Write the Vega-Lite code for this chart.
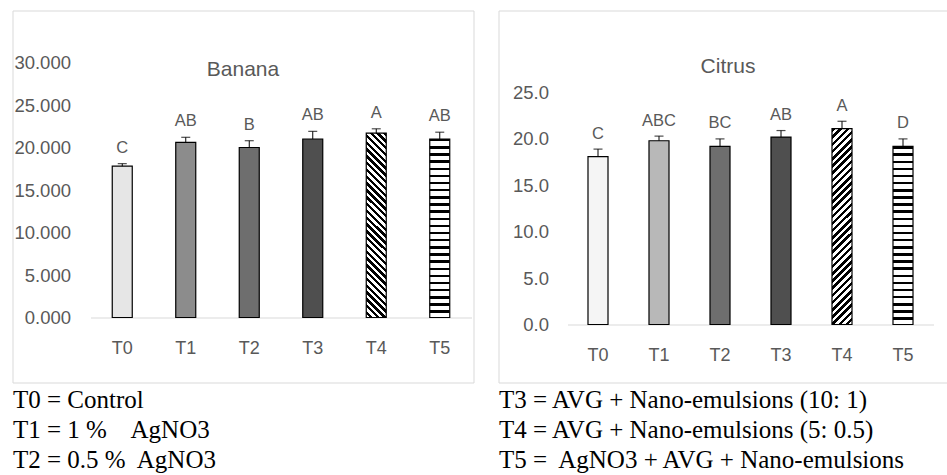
{
  "$schema": "https://vega.github.io/schema/vega-lite/v6.json",
  "padding": {"left": 11.5, "top": 9.5, "right": 0, "bottom": 0},
  "background": "white",
  "config": {"font": "Liberation Sans", "view": {"stroke": "#d9d9d9", "strokeWidth": 1}},
  "data": {"values": [
    {"chart": "Banana", "t": "T0", "mean": 17.8, "upper": 18.1, "letter": "C"},
    {"chart": "Banana", "t": "T1", "mean": 20.6, "upper": 21.2, "letter": "AB"},
    {"chart": "Banana", "t": "T2", "mean": 20.0, "upper": 20.8, "letter": "B"},
    {"chart": "Banana", "t": "T3", "mean": 21.0, "upper": 21.9, "letter": "AB"},
    {"chart": "Banana", "t": "T4", "mean": 21.7, "upper": 22.2, "letter": "A"},
    {"chart": "Banana", "t": "T5", "mean": 21.0, "upper": 21.8, "letter": "AB"},
    {"chart": "Citrus", "t": "T0", "mean": 18.1, "upper": 18.9, "letter": "C"},
    {"chart": "Citrus", "t": "T1", "mean": 19.8, "upper": 20.3, "letter": "ABC"},
    {"chart": "Citrus", "t": "T2", "mean": 19.2, "upper": 20.0, "letter": "BC"},
    {"chart": "Citrus", "t": "T3", "mean": 20.2, "upper": 20.9, "letter": "AB"},
    {"chart": "Citrus", "t": "T4", "mean": 21.1, "upper": 21.9, "letter": "A"},
    {"chart": "Citrus", "t": "T5", "mean": 19.2, "upper": 20.0, "letter": "D"}
  ]},
  "spacing": 23,
  "hconcat": [
    {
      "width": 461, "height": 372,
      "transform": [{"filter": "datum.chart === 'Banana'"}],
      "title": {"text": "Banana", "font": "Liberation Sans", "fontSize": 21, "fontWeight": "normal", "color": "#595959", "offset": -86, "baseline": "alphabetic"},
      "resolve": {"axis": {"x": "independent"}},
      "layer": [
        {
          "mark": {"type": "bar", "stroke": "#000", "strokeWidth": 1.2},
          "encoding": {
            "x": {"field": "t", "type": "nominal", "scale": {"range": [78, 459], "paddingInner": 0.685, "paddingOuter": 0.3425},
                  "axis": {"orient": "bottom", "title": null, "labelFont": "Liberation Sans", "labelFontSize": 18, "labelColor": "#595959", "labelPadding": 22, "labelAngle": 0, "ticks": false, "tickSize": 0, "domain": true, "domainColor": "#d9d9d9", "domainWidth": 1, "grid": false, "offset": -65}},
            "y": {"field": "mean", "type": "quantitative", "scale": {"domain": [0, 30], "range": [307, 52], "nice": false},
                  "axis": {"title": null, "values": [0, 5, 10, 15, 20, 25, 30], "format": ".3f", "labelFont": "Liberation Sans", "labelFontSize": 18.5, "labelColor": "#595959", "labelPadding": 20, "ticks": false, "tickSize": 0, "domain": false, "grid": false, "offset": -78}},
            "fill": {"condition": [
              {"test": "datum.t === 'T0'", "value": "#e6e6e6"},
              {"test": "datum.t === 'T1'", "value": "#8c8c8c"},
              {"test": "datum.t === 'T2'", "value": "#6e6e6e"},
              {"test": "datum.t === 'T3'", "value": "#4f4f4f"},
              {"test": "datum.t === 'T4'", "value": {"gradient": "linear", "x1": 1, "y1": 0, "x2": 0.8817, "y2": 1.095, "stops": [
{"offset":0,"color":"#000"},{"offset":0.0167,"color":"#000"},{"offset":0.0167,"color":"#fff"},{"offset":0.0333,"color":"#fff"},
{"offset":0.0333,"color":"#000"},{"offset":0.05,"color":"#000"},{"offset":0.05,"color":"#fff"},{"offset":0.0667,"color":"#fff"},
{"offset":0.0667,"color":"#000"},{"offset":0.0833,"color":"#000"},{"offset":0.0833,"color":"#fff"},{"offset":0.1,"color":"#fff"},
{"offset":0.1,"color":"#000"},{"offset":0.1167,"color":"#000"},{"offset":0.1167,"color":"#fff"},{"offset":0.1333,"color":"#fff"},
{"offset":0.1333,"color":"#000"},{"offset":0.15,"color":"#000"},{"offset":0.15,"color":"#fff"},{"offset":0.1667,"color":"#fff"},
{"offset":0.1667,"color":"#000"},{"offset":0.1833,"color":"#000"},{"offset":0.1833,"color":"#fff"},{"offset":0.2,"color":"#fff"},
{"offset":0.2,"color":"#000"},{"offset":0.2167,"color":"#000"},{"offset":0.2167,"color":"#fff"},{"offset":0.2333,"color":"#fff"},
{"offset":0.2333,"color":"#000"},{"offset":0.25,"color":"#000"},{"offset":0.25,"color":"#fff"},{"offset":0.2667,"color":"#fff"},
{"offset":0.2667,"color":"#000"},{"offset":0.2833,"color":"#000"},{"offset":0.2833,"color":"#fff"},{"offset":0.3,"color":"#fff"},
{"offset":0.3,"color":"#000"},{"offset":0.3167,"color":"#000"},{"offset":0.3167,"color":"#fff"},{"offset":0.3333,"color":"#fff"},
{"offset":0.3333,"color":"#000"},{"offset":0.35,"color":"#000"},{"offset":0.35,"color":"#fff"},{"offset":0.3667,"color":"#fff"},
{"offset":0.3667,"color":"#000"},{"offset":0.3833,"color":"#000"},{"offset":0.3833,"color":"#fff"},{"offset":0.4,"color":"#fff"},
{"offset":0.4,"color":"#000"},{"offset":0.4167,"color":"#000"},{"offset":0.4167,"color":"#fff"},{"offset":0.4333,"color":"#fff"},
{"offset":0.4333,"color":"#000"},{"offset":0.45,"color":"#000"},{"offset":0.45,"color":"#fff"},{"offset":0.4667,"color":"#fff"},
{"offset":0.4667,"color":"#000"},{"offset":0.4833,"color":"#000"},{"offset":0.4833,"color":"#fff"},{"offset":0.5,"color":"#fff"},
{"offset":0.5,"color":"#000"},{"offset":0.5167,"color":"#000"},{"offset":0.5167,"color":"#fff"},{"offset":0.5333,"color":"#fff"},
{"offset":0.5333,"color":"#000"},{"offset":0.55,"color":"#000"},{"offset":0.55,"color":"#fff"},{"offset":0.5667,"color":"#fff"},
{"offset":0.5667,"color":"#000"},{"offset":0.5833,"color":"#000"},{"offset":0.5833,"color":"#fff"},{"offset":0.6,"color":"#fff"},
{"offset":0.6,"color":"#000"},{"offset":0.6167,"color":"#000"},{"offset":0.6167,"color":"#fff"},{"offset":0.6333,"color":"#fff"},
{"offset":0.6333,"color":"#000"},{"offset":0.65,"color":"#000"},{"offset":0.65,"color":"#fff"},{"offset":0.6667,"color":"#fff"},
{"offset":0.6667,"color":"#000"},{"offset":0.6833,"color":"#000"},{"offset":0.6833,"color":"#fff"},{"offset":0.7,"color":"#fff"},
{"offset":0.7,"color":"#000"},{"offset":0.7167,"color":"#000"},{"offset":0.7167,"color":"#fff"},{"offset":0.7333,"color":"#fff"},
{"offset":0.7333,"color":"#000"},{"offset":0.75,"color":"#000"},{"offset":0.75,"color":"#fff"},{"offset":0.7667,"color":"#fff"},
{"offset":0.7667,"color":"#000"},{"offset":0.7833,"color":"#000"},{"offset":0.7833,"color":"#fff"},{"offset":0.8,"color":"#fff"},
{"offset":0.8,"color":"#000"},{"offset":0.8167,"color":"#000"},{"offset":0.8167,"color":"#fff"},{"offset":0.8333,"color":"#fff"},
{"offset":0.8333,"color":"#000"},{"offset":0.85,"color":"#000"},{"offset":0.85,"color":"#fff"},{"offset":0.8667,"color":"#fff"},
{"offset":0.8667,"color":"#000"},{"offset":0.8833,"color":"#000"},{"offset":0.8833,"color":"#fff"},{"offset":0.9,"color":"#fff"},
{"offset":0.9,"color":"#000"},{"offset":0.9167,"color":"#000"},{"offset":0.9167,"color":"#fff"},{"offset":0.9333,"color":"#fff"},
{"offset":0.9333,"color":"#000"},{"offset":0.95,"color":"#000"},{"offset":0.95,"color":"#fff"},{"offset":0.9667,"color":"#fff"},
{"offset":0.9667,"color":"#000"},{"offset":0.9833,"color":"#000"},{"offset":0.9833,"color":"#fff"},{"offset":1,"color":"#fff"}
              ]}},
              {"test": "datum.t === 'T5'", "value": {"gradient": "linear", "x1": 0, "y1": 0, "x2": 0, "y2": 1, "stops": [
{"offset":0,"color":"#000"},{"offset":0.014,"color":"#000"},{"offset":0.014,"color":"#fff"},{"offset":0.04,"color":"#fff"},
{"offset":0.04,"color":"#000"},{"offset":0.054,"color":"#000"},{"offset":0.054,"color":"#fff"},{"offset":0.08,"color":"#fff"},
{"offset":0.08,"color":"#000"},{"offset":0.094,"color":"#000"},{"offset":0.094,"color":"#fff"},{"offset":0.12,"color":"#fff"},
{"offset":0.12,"color":"#000"},{"offset":0.134,"color":"#000"},{"offset":0.134,"color":"#fff"},{"offset":0.16,"color":"#fff"},
{"offset":0.16,"color":"#000"},{"offset":0.174,"color":"#000"},{"offset":0.174,"color":"#fff"},{"offset":0.2,"color":"#fff"},
{"offset":0.2,"color":"#000"},{"offset":0.214,"color":"#000"},{"offset":0.214,"color":"#fff"},{"offset":0.24,"color":"#fff"},
{"offset":0.24,"color":"#000"},{"offset":0.254,"color":"#000"},{"offset":0.254,"color":"#fff"},{"offset":0.28,"color":"#fff"},
{"offset":0.28,"color":"#000"},{"offset":0.294,"color":"#000"},{"offset":0.294,"color":"#fff"},{"offset":0.32,"color":"#fff"},
{"offset":0.32,"color":"#000"},{"offset":0.334,"color":"#000"},{"offset":0.334,"color":"#fff"},{"offset":0.36,"color":"#fff"},
{"offset":0.36,"color":"#000"},{"offset":0.374,"color":"#000"},{"offset":0.374,"color":"#fff"},{"offset":0.4,"color":"#fff"},
{"offset":0.4,"color":"#000"},{"offset":0.414,"color":"#000"},{"offset":0.414,"color":"#fff"},{"offset":0.44,"color":"#fff"},
{"offset":0.44,"color":"#000"},{"offset":0.454,"color":"#000"},{"offset":0.454,"color":"#fff"},{"offset":0.48,"color":"#fff"},
{"offset":0.48,"color":"#000"},{"offset":0.494,"color":"#000"},{"offset":0.494,"color":"#fff"},{"offset":0.52,"color":"#fff"},
{"offset":0.52,"color":"#000"},{"offset":0.534,"color":"#000"},{"offset":0.534,"color":"#fff"},{"offset":0.56,"color":"#fff"},
{"offset":0.56,"color":"#000"},{"offset":0.574,"color":"#000"},{"offset":0.574,"color":"#fff"},{"offset":0.6,"color":"#fff"},
{"offset":0.6,"color":"#000"},{"offset":0.614,"color":"#000"},{"offset":0.614,"color":"#fff"},{"offset":0.64,"color":"#fff"},
{"offset":0.64,"color":"#000"},{"offset":0.654,"color":"#000"},{"offset":0.654,"color":"#fff"},{"offset":0.68,"color":"#fff"},
{"offset":0.68,"color":"#000"},{"offset":0.694,"color":"#000"},{"offset":0.694,"color":"#fff"},{"offset":0.72,"color":"#fff"},
{"offset":0.72,"color":"#000"},{"offset":0.734,"color":"#000"},{"offset":0.734,"color":"#fff"},{"offset":0.76,"color":"#fff"},
{"offset":0.76,"color":"#000"},{"offset":0.774,"color":"#000"},{"offset":0.774,"color":"#fff"},{"offset":0.8,"color":"#fff"},
{"offset":0.8,"color":"#000"},{"offset":0.814,"color":"#000"},{"offset":0.814,"color":"#fff"},{"offset":0.84,"color":"#fff"},
{"offset":0.84,"color":"#000"},{"offset":0.854,"color":"#000"},{"offset":0.854,"color":"#fff"},{"offset":0.88,"color":"#fff"},
{"offset":0.88,"color":"#000"},{"offset":0.894,"color":"#000"},{"offset":0.894,"color":"#fff"},{"offset":0.92,"color":"#fff"},
{"offset":0.92,"color":"#000"},{"offset":0.934,"color":"#000"},{"offset":0.934,"color":"#fff"},{"offset":0.96,"color":"#fff"},
{"offset":0.96,"color":"#000"},{"offset":0.974,"color":"#000"},{"offset":0.974,"color":"#fff"},{"offset":1,"color":"#fff"}
              ]}}
            ], "value": "#fff"}
          }
        },
        {
          "mark": {"type": "rule", "color": "#000", "strokeWidth": 1},
          "encoding": {
            "x": {"field": "t", "type": "nominal",
                  "axis": {"orient": "bottom", "title": ["T0 = Control", "T1 = 1 %\u00a0\u00a0\u00a0 AgNO3", "T2 = 0.5 %\u00a0 AgNO3"], "labels": false, "ticks": false, "domain": false, "grid": false, "offset": 0, "titleX": 0, "titleY": 25, "titleAlign": "left", "titleAnchor": "start", "titleBaseline": "alphabetic", "titleFont": "Liberation Serif", "titleFontSize": 25, "titleFontWeight": "normal", "titleColor": "#000", "titleLineHeight": 30}},
            "y": {"field": "mean", "type": "quantitative",
                  "axis": {"title": null, "values": [0, 5, 10, 15, 20, 25, 30], "format": ".3f", "labelFont": "Liberation Sans", "labelFontSize": 18.5, "labelColor": "#595959", "labelPadding": 20, "ticks": false, "tickSize": 0, "domain": false, "grid": false, "offset": -78}},
            "y2": {"field": "upper"}
          }
        },
        {
          "mark": {"type": "tick", "orient": "horizontal", "size": 9, "thickness": 1.2, "color": "#000"},
          "encoding": {
            "x": {"field": "t", "type": "nominal", "axis": null},
            "y": {"field": "upper", "type": "quantitative",
                  "axis": {"title": null, "values": [0, 5, 10, 15, 20, 25, 30], "format": ".3f", "labelFont": "Liberation Sans", "labelFontSize": 18.5, "labelColor": "#595959", "labelPadding": 20, "ticks": false, "tickSize": 0, "domain": false, "grid": false, "offset": -78}}
          }
        },
        {
          "mark": {"type": "text", "baseline": "alphabetic", "dy": -11, "font": "Liberation Sans", "fontSize": 16.5, "color": "#595959"},
          "encoding": {
            "x": {"field": "t", "type": "nominal", "axis": null},
            "y": {"field": "upper", "type": "quantitative",
                  "axis": {"title": null, "values": [0, 5, 10, 15, 20, 25, 30], "format": ".3f", "labelFont": "Liberation Sans", "labelFontSize": 18.5, "labelColor": "#595959", "labelPadding": 20, "ticks": false, "tickSize": 0, "domain": false, "grid": false, "offset": -78}},
            "text": {"field": "letter"}
          }
        }
      ]
    },
    {
      "width": 449, "height": 372,
      "transform": [{"filter": "datum.chart === 'Citrus'"}],
      "title": {"text": "Citrus", "font": "Liberation Sans", "fontSize": 21, "fontWeight": "normal", "color": "#595959", "offset": -83, "baseline": "alphabetic", "dx": 5},
      "resolve": {"axis": {"x": "independent"}},
      "layer": [
        {
          "mark": {"type": "bar", "stroke": "#000", "strokeWidth": 1.2},
          "encoding": {
            "x": {"field": "t", "type": "nominal", "scale": {"range": [69, 435], "paddingInner": 0.672, "paddingOuter": 0.336},
                  "axis": {"orient": "bottom", "title": null, "labelFont": "Liberation Sans", "labelFontSize": 18, "labelColor": "#595959", "labelPadding": 22, "labelAngle": 0, "ticks": false, "tickSize": 0, "domain": true, "domainColor": "#d9d9d9", "domainWidth": 1, "grid": false, "offset": -58}},
            "y": {"field": "mean", "type": "quantitative", "scale": {"domain": [0, 25], "range": [314, 82], "nice": false},
                  "axis": {"title": null, "values": [0, 5, 10, 15, 20, 25], "format": ".1f", "labelFont": "Liberation Sans", "labelFontSize": 18.5, "labelColor": "#595959", "labelPadding": 19, "ticks": false, "tickSize": 0, "domain": false, "grid": false, "offset": -69}},
            "fill": {"condition": [
              {"test": "datum.t === 'T0'", "value": "#f5f5f5"},
              {"test": "datum.t === 'T1'", "value": "#b8b8b8"},
              {"test": "datum.t === 'T2'", "value": "#6e6e6e"},
              {"test": "datum.t === 'T3'", "value": "#4f4f4f"},
              {"test": "datum.t === 'T4'", "value": {"gradient": "linear", "x1": 0, "y1": 0, "x2": 0.1113, "y2": 1.0907, "stops": [
{"offset":0,"color":"#000"},{"offset":0.0167,"color":"#000"},{"offset":0.0167,"color":"#fff"},{"offset":0.0333,"color":"#fff"},
{"offset":0.0333,"color":"#000"},{"offset":0.05,"color":"#000"},{"offset":0.05,"color":"#fff"},{"offset":0.0667,"color":"#fff"},
{"offset":0.0667,"color":"#000"},{"offset":0.0833,"color":"#000"},{"offset":0.0833,"color":"#fff"},{"offset":0.1,"color":"#fff"},
{"offset":0.1,"color":"#000"},{"offset":0.1167,"color":"#000"},{"offset":0.1167,"color":"#fff"},{"offset":0.1333,"color":"#fff"},
{"offset":0.1333,"color":"#000"},{"offset":0.15,"color":"#000"},{"offset":0.15,"color":"#fff"},{"offset":0.1667,"color":"#fff"},
{"offset":0.1667,"color":"#000"},{"offset":0.1833,"color":"#000"},{"offset":0.1833,"color":"#fff"},{"offset":0.2,"color":"#fff"},
{"offset":0.2,"color":"#000"},{"offset":0.2167,"color":"#000"},{"offset":0.2167,"color":"#fff"},{"offset":0.2333,"color":"#fff"},
{"offset":0.2333,"color":"#000"},{"offset":0.25,"color":"#000"},{"offset":0.25,"color":"#fff"},{"offset":0.2667,"color":"#fff"},
{"offset":0.2667,"color":"#000"},{"offset":0.2833,"color":"#000"},{"offset":0.2833,"color":"#fff"},{"offset":0.3,"color":"#fff"},
{"offset":0.3,"color":"#000"},{"offset":0.3167,"color":"#000"},{"offset":0.3167,"color":"#fff"},{"offset":0.3333,"color":"#fff"},
{"offset":0.3333,"color":"#000"},{"offset":0.35,"color":"#000"},{"offset":0.35,"color":"#fff"},{"offset":0.3667,"color":"#fff"},
{"offset":0.3667,"color":"#000"},{"offset":0.3833,"color":"#000"},{"offset":0.3833,"color":"#fff"},{"offset":0.4,"color":"#fff"},
{"offset":0.4,"color":"#000"},{"offset":0.4167,"color":"#000"},{"offset":0.4167,"color":"#fff"},{"offset":0.4333,"color":"#fff"},
{"offset":0.4333,"color":"#000"},{"offset":0.45,"color":"#000"},{"offset":0.45,"color":"#fff"},{"offset":0.4667,"color":"#fff"},
{"offset":0.4667,"color":"#000"},{"offset":0.4833,"color":"#000"},{"offset":0.4833,"color":"#fff"},{"offset":0.5,"color":"#fff"},
{"offset":0.5,"color":"#000"},{"offset":0.5167,"color":"#000"},{"offset":0.5167,"color":"#fff"},{"offset":0.5333,"color":"#fff"},
{"offset":0.5333,"color":"#000"},{"offset":0.55,"color":"#000"},{"offset":0.55,"color":"#fff"},{"offset":0.5667,"color":"#fff"},
{"offset":0.5667,"color":"#000"},{"offset":0.5833,"color":"#000"},{"offset":0.5833,"color":"#fff"},{"offset":0.6,"color":"#fff"},
{"offset":0.6,"color":"#000"},{"offset":0.6167,"color":"#000"},{"offset":0.6167,"color":"#fff"},{"offset":0.6333,"color":"#fff"},
{"offset":0.6333,"color":"#000"},{"offset":0.65,"color":"#000"},{"offset":0.65,"color":"#fff"},{"offset":0.6667,"color":"#fff"},
{"offset":0.6667,"color":"#000"},{"offset":0.6833,"color":"#000"},{"offset":0.6833,"color":"#fff"},{"offset":0.7,"color":"#fff"},
{"offset":0.7,"color":"#000"},{"offset":0.7167,"color":"#000"},{"offset":0.7167,"color":"#fff"},{"offset":0.7333,"color":"#fff"},
{"offset":0.7333,"color":"#000"},{"offset":0.75,"color":"#000"},{"offset":0.75,"color":"#fff"},{"offset":0.7667,"color":"#fff"},
{"offset":0.7667,"color":"#000"},{"offset":0.7833,"color":"#000"},{"offset":0.7833,"color":"#fff"},{"offset":0.8,"color":"#fff"},
{"offset":0.8,"color":"#000"},{"offset":0.8167,"color":"#000"},{"offset":0.8167,"color":"#fff"},{"offset":0.8333,"color":"#fff"},
{"offset":0.8333,"color":"#000"},{"offset":0.85,"color":"#000"},{"offset":0.85,"color":"#fff"},{"offset":0.8667,"color":"#fff"},
{"offset":0.8667,"color":"#000"},{"offset":0.8833,"color":"#000"},{"offset":0.8833,"color":"#fff"},{"offset":0.9,"color":"#fff"},
{"offset":0.9,"color":"#000"},{"offset":0.9167,"color":"#000"},{"offset":0.9167,"color":"#fff"},{"offset":0.9333,"color":"#fff"},
{"offset":0.9333,"color":"#000"},{"offset":0.95,"color":"#000"},{"offset":0.95,"color":"#fff"},{"offset":0.9667,"color":"#fff"},
{"offset":0.9667,"color":"#000"},{"offset":0.9833,"color":"#000"},{"offset":0.9833,"color":"#fff"},{"offset":1,"color":"#fff"}
              ]}},
              {"test": "datum.t === 'T5'", "value": {"gradient": "linear", "x1": 0, "y1": 0, "x2": 0, "y2": 1, "stops": [
{"offset":0,"color":"#000"},{"offset":0.014,"color":"#000"},{"offset":0.014,"color":"#fff"},{"offset":0.04,"color":"#fff"},
{"offset":0.04,"color":"#000"},{"offset":0.054,"color":"#000"},{"offset":0.054,"color":"#fff"},{"offset":0.08,"color":"#fff"},
{"offset":0.08,"color":"#000"},{"offset":0.094,"color":"#000"},{"offset":0.094,"color":"#fff"},{"offset":0.12,"color":"#fff"},
{"offset":0.12,"color":"#000"},{"offset":0.134,"color":"#000"},{"offset":0.134,"color":"#fff"},{"offset":0.16,"color":"#fff"},
{"offset":0.16,"color":"#000"},{"offset":0.174,"color":"#000"},{"offset":0.174,"color":"#fff"},{"offset":0.2,"color":"#fff"},
{"offset":0.2,"color":"#000"},{"offset":0.214,"color":"#000"},{"offset":0.214,"color":"#fff"},{"offset":0.24,"color":"#fff"},
{"offset":0.24,"color":"#000"},{"offset":0.254,"color":"#000"},{"offset":0.254,"color":"#fff"},{"offset":0.28,"color":"#fff"},
{"offset":0.28,"color":"#000"},{"offset":0.294,"color":"#000"},{"offset":0.294,"color":"#fff"},{"offset":0.32,"color":"#fff"},
{"offset":0.32,"color":"#000"},{"offset":0.334,"color":"#000"},{"offset":0.334,"color":"#fff"},{"offset":0.36,"color":"#fff"},
{"offset":0.36,"color":"#000"},{"offset":0.374,"color":"#000"},{"offset":0.374,"color":"#fff"},{"offset":0.4,"color":"#fff"},
{"offset":0.4,"color":"#000"},{"offset":0.414,"color":"#000"},{"offset":0.414,"color":"#fff"},{"offset":0.44,"color":"#fff"},
{"offset":0.44,"color":"#000"},{"offset":0.454,"color":"#000"},{"offset":0.454,"color":"#fff"},{"offset":0.48,"color":"#fff"},
{"offset":0.48,"color":"#000"},{"offset":0.494,"color":"#000"},{"offset":0.494,"color":"#fff"},{"offset":0.52,"color":"#fff"},
{"offset":0.52,"color":"#000"},{"offset":0.534,"color":"#000"},{"offset":0.534,"color":"#fff"},{"offset":0.56,"color":"#fff"},
{"offset":0.56,"color":"#000"},{"offset":0.574,"color":"#000"},{"offset":0.574,"color":"#fff"},{"offset":0.6,"color":"#fff"},
{"offset":0.6,"color":"#000"},{"offset":0.614,"color":"#000"},{"offset":0.614,"color":"#fff"},{"offset":0.64,"color":"#fff"},
{"offset":0.64,"color":"#000"},{"offset":0.654,"color":"#000"},{"offset":0.654,"color":"#fff"},{"offset":0.68,"color":"#fff"},
{"offset":0.68,"color":"#000"},{"offset":0.694,"color":"#000"},{"offset":0.694,"color":"#fff"},{"offset":0.72,"color":"#fff"},
{"offset":0.72,"color":"#000"},{"offset":0.734,"color":"#000"},{"offset":0.734,"color":"#fff"},{"offset":0.76,"color":"#fff"},
{"offset":0.76,"color":"#000"},{"offset":0.774,"color":"#000"},{"offset":0.774,"color":"#fff"},{"offset":0.8,"color":"#fff"},
{"offset":0.8,"color":"#000"},{"offset":0.814,"color":"#000"},{"offset":0.814,"color":"#fff"},{"offset":0.84,"color":"#fff"},
{"offset":0.84,"color":"#000"},{"offset":0.854,"color":"#000"},{"offset":0.854,"color":"#fff"},{"offset":0.88,"color":"#fff"},
{"offset":0.88,"color":"#000"},{"offset":0.894,"color":"#000"},{"offset":0.894,"color":"#fff"},{"offset":0.92,"color":"#fff"},
{"offset":0.92,"color":"#000"},{"offset":0.934,"color":"#000"},{"offset":0.934,"color":"#fff"},{"offset":0.96,"color":"#fff"},
{"offset":0.96,"color":"#000"},{"offset":0.974,"color":"#000"},{"offset":0.974,"color":"#fff"},{"offset":1,"color":"#fff"}
              ]}}
            ], "value": "#fff"}
          }
        },
        {
          "mark": {"type": "rule", "color": "#000", "strokeWidth": 1},
          "encoding": {
            "x": {"field": "t", "type": "nominal",
                  "axis": {"orient": "bottom", "title": ["T3 = AVG + Nano-emulsions (10: 1)", "T4 = AVG + Nano-emulsions (5: 0.5)", "T5 =\u00a0 AgNO3 + AVG + Nano-emulsions"], "labels": false, "ticks": false, "domain": false, "grid": false, "offset": 0, "titleX": 0, "titleY": 25, "titleAlign": "left", "titleAnchor": "start", "titleBaseline": "alphabetic", "titleFont": "Liberation Serif", "titleFontSize": 25, "titleFontWeight": "normal", "titleColor": "#000", "titleLineHeight": 30}},
            "y": {"field": "mean", "type": "quantitative",
                  "axis": {"title": null, "values": [0, 5, 10, 15, 20, 25], "format": ".1f", "labelFont": "Liberation Sans", "labelFontSize": 18.5, "labelColor": "#595959", "labelPadding": 19, "ticks": false, "tickSize": 0, "domain": false, "grid": false, "offset": -69}},
            "y2": {"field": "upper"}
          }
        },
        {
          "mark": {"type": "tick", "orient": "horizontal", "size": 9, "thickness": 1.2, "color": "#000"},
          "encoding": {
            "x": {"field": "t", "type": "nominal", "axis": null},
            "y": {"field": "upper", "type": "quantitative",
                  "axis": {"title": null, "values": [0, 5, 10, 15, 20, 25], "format": ".1f", "labelFont": "Liberation Sans", "labelFontSize": 18.5, "labelColor": "#595959", "labelPadding": 19, "ticks": false, "tickSize": 0, "domain": false, "grid": false, "offset": -69}}
          }
        },
        {
          "mark": {"type": "text", "baseline": "alphabetic", "dy": -10.5, "font": "Liberation Sans", "fontSize": 16.5, "color": "#595959"},
          "encoding": {
            "x": {"field": "t", "type": "nominal", "axis": null},
            "y": {"field": "upper", "type": "quantitative",
                  "axis": {"title": null, "values": [0, 5, 10, 15, 20, 25], "format": ".1f", "labelFont": "Liberation Sans", "labelFontSize": 18.5, "labelColor": "#595959", "labelPadding": 19, "ticks": false, "tickSize": 0, "domain": false, "grid": false, "offset": -69}},
            "text": {"field": "letter"}
          }
        }
      ]
    }
  ]
}
